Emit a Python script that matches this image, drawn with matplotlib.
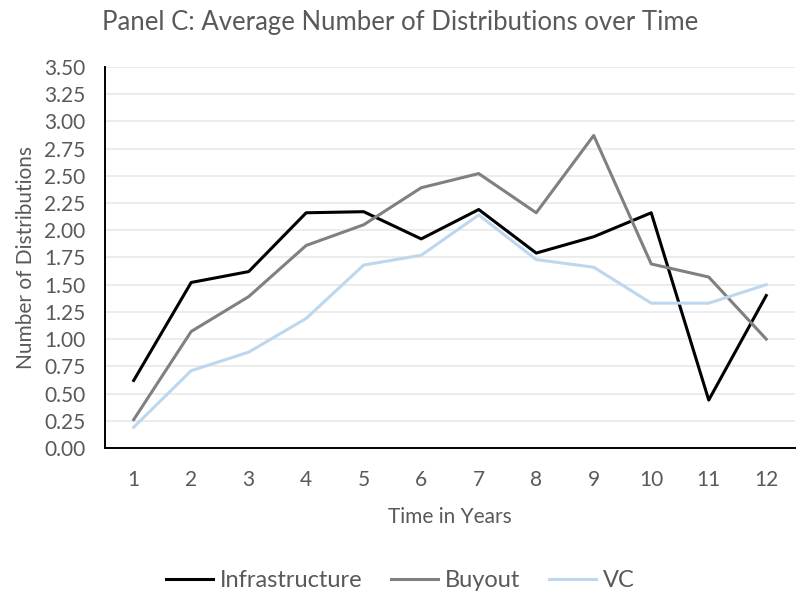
import matplotlib
matplotlib.use('Agg')

import matplotlib.pyplot as plt
import numpy as np

plt.rcParams['font.family'] = ['Lato', 'DejaVu Sans']

# data
years = [1, 2, 3, 4, 5, 6, 7, 8, 9, 10, 11, 12]
infrastructure = [0.62, 1.52, 1.62, 2.16, 2.17, 1.92, 2.19, 1.79, 1.94, 2.16, 0.44, 1.40]
buyout = [0.26, 1.07, 1.39, 1.86, 2.05, 2.39, 2.52, 2.16, 2.87, 1.69, 1.57, 1.00]
vc = [0.19, 0.71, 0.88, 1.19, 1.68, 1.77, 2.14, 1.73, 1.66, 1.33, 1.33, 1.50]
y_ticks = np.arange(0, 3.51, 0.25)

text_color = '#595959'

fig = plt.figure(figsize=(8.01, 5.97), dpi=100)
ax = fig.add_axes([0.131, 0.2496, 0.8615, 0.6384])

ax.plot(years, infrastructure, color='black', linewidth=2.2, label='Infrastructure')
ax.plot(years, buyout, color='#808080', linewidth=2.2, label='Buyout')
ax.plot(years, vc, color='#BDD7EE', linewidth=2.2, label='VC')

ax.set_xlim(0.5, 12.5)
ax.set_ylim(0, 3.5)
ax.set_xticks(years)
ax.set_yticks(y_ticks)
ax.set_yticklabels([f'{v:.2f}' for v in y_ticks])
ax.tick_params(axis='both', length=0, labelsize=15, labelcolor=text_color)
ax.tick_params(axis='x', pad=16)
ax.tick_params(axis='y', pad=14)

ax.grid(axis='y', color='#EBEBEB', linewidth=1.3)
ax.set_axisbelow(True)
for s in ['top', 'right']:
    ax.spines[s].set_visible(False)
for s in ['left', 'bottom']:
    ax.spines[s].set_color('black')
    ax.spines[s].set_linewidth(1.4)

ax.set_xlabel('Time in Years', fontsize=15, color=text_color, labelpad=12)
ax.set_ylabel('Number of Distributions', fontsize=15, color=text_color, labelpad=6)

fig.text(0.5, 0.962, 'Panel C: Average Number of Distributions over Time',
         ha='center', va='center', fontsize=18.5, color=text_color)

fig.legend(loc='center', bbox_to_anchor=(0.5, 0.027), ncol=3, frameon=False,
           fontsize=17, labelcolor=text_color, handlelength=2.0,
           columnspacing=1.2, handletextpad=0.3)

plt.savefig('out.png', dpi=100)
